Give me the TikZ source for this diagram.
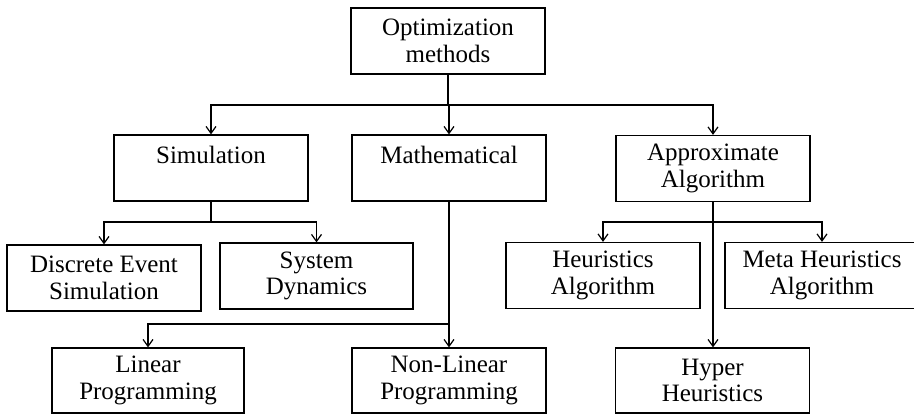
\documentclass[tikz,border=0pt]{standalone}
\usepackage{fontspec}
\setmainfont{Liberation Serif}
\usetikzlibrary{arrows.meta}
\begin{document}
\begin{tikzpicture}[x=1pt,y=-1pt,
  box/.style={draw, line width=1.2pt, minimum width=194pt, minimum height=66pt, inner sep=0pt,
    align=center, font=\fontsize{25}{26.5}\selectfont},
  conn/.style={line width=1.2pt},
  arr/.style={line width=1.2pt, -{Straight Barb[length=7pt,width=10pt]}}]
\useasboundingbox (0,0) rectangle (914,414);
\node[box] (top) at (448,41) {Optimization\\methods};
\node[box] (sim) at (211,168) {Simulation\\\mbox{}};
\node[box] (math) at (449,168) {Mathematical\\\mbox{}};
\node[box] (appr) at (713,168.5) {Approximate\\Algorithm};
\node[box] (des) at (104,278) {Discrete Event\\Simulation};
\node[box, minimum width=193pt] (sd) at (316.5,276) {System\\Dynamics};
\node[box] (heur) at (603,275.5) {Heuristics\\Algorithm};
\node[box] (meta) at (822,275.5) {Meta Heuristics\\Algorithm};
\node[box, minimum width=192pt, minimum height=65pt] (lp) at (148,380.5) {Linear\\Programming};
\node[box, minimum height=65pt] (nlp) at (449,380.5) {Non-Linear\\Programming};
\node[box, minimum height=65pt] (hyp) at (712.5,380.5) {Hyper\\Heuristics};
% top level
\coordinate (j0) at (448,105);
\draw[conn] (top.south) -- (j0);
\draw[arr] (j0) -| (sim.north);
\draw[arr] (j0) -| (math.north);
\draw[arr] (j0) -| (appr.north);
% simulation
\coordinate (j1) at (211,222);
\draw[conn] (sim.south) -- (j1);
\draw[arr] (j1) -| (des.north);
\draw[arr] (j1) -| (sd.north);
% mathematical
\coordinate (j2) at (449,324);
\draw[arr] (math.south) -- (nlp.north);
\draw[arr] (j2) -| (lp.north);
% approximate
\coordinate (j3) at (713,222);
\draw[arr] (appr.south) -- (hyp.north -| appr.south);
\draw[arr] (j3) -| (heur.north);
\draw[arr] (j3) -| (meta.north);
\end{tikzpicture}
\end{document}
